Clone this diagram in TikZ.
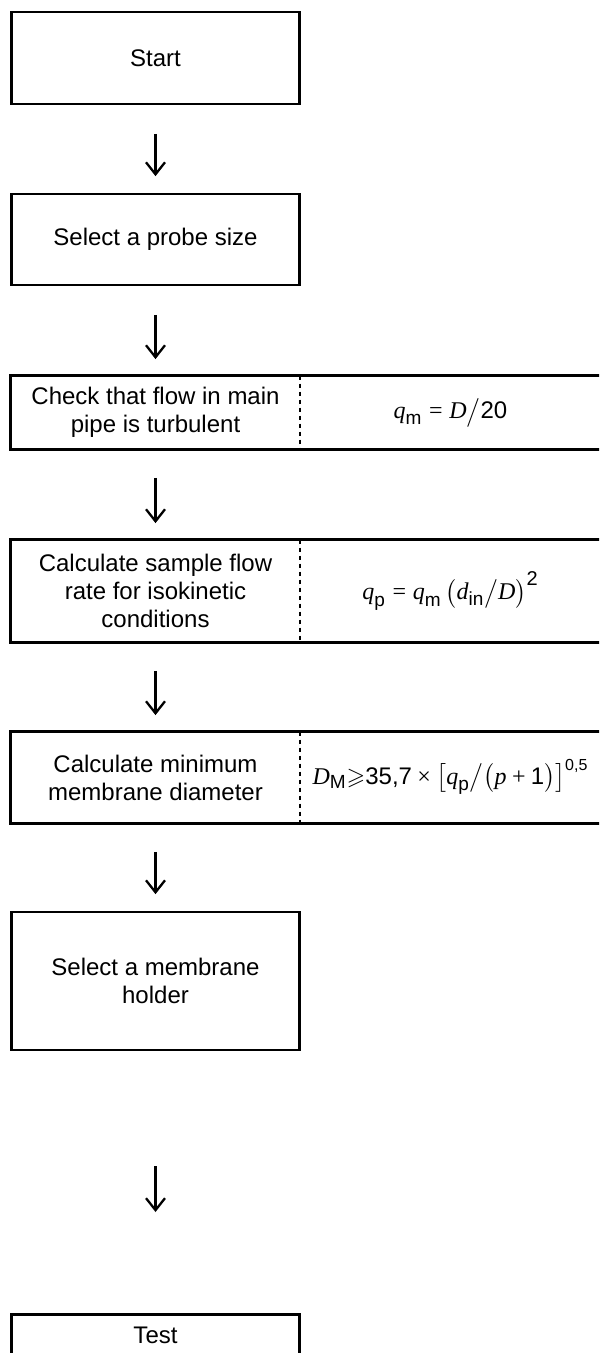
\documentclass[tikz,border=0pt]{standalone}
\usepackage{amsmath,amssymb}
\usepackage{fontspec}
\setmainfont{Liberation Sans}
\newfontfamily\tms{Liberation Serif}
\usetikzlibrary{arrows.meta}
\newcommand{\vi}[1]{\text{\tms\itshape #1}}
\newcommand{\vu}[1]{\text{\tms #1}}
\newcommand{\sbs}[1]{_{\hbox{\fontsize{9.5}{10}\selectfont #1}}}
\newcommand{\sps}[2]{^{\hbox{\fontsize{#1}{10}\selectfont #2}}}
\begin{document}
\begin{tikzpicture}[x=0.5pt,y=-0.5pt,
  every node/.style={font=\fontsize{12}{14}\selectfont},
  box/.style={draw, line width=1.35pt, inner sep=0pt, align=center, minimum width=144pt},
  cell/.style={inner sep=0pt, align=center},
  flow/.style={line width=1.15pt, -{Straight Barb[length=6pt,width=9.5pt]}, shorten <=14.25pt, shorten >=8.25pt},
  divider/.style={line width=1.05pt, dash pattern=on 2.4pt off 1.6pt},
  frame/.style={line width=1.35pt}]
\clip (0,0) rectangle (599,1353);
\node[box, minimum height=46pt] (start) at (155.5,58) {Start};
\node[box, minimum height=45.5pt] (probe) at (155.5,239.5) {\raisebox{2pt}{Select a probe size}};
% row: check
\node[cell, minimum width=144.5pt, minimum height=36.5pt] (checkL) at (155.5,412.5) {Check that flow in main\\pipe is turbulent};
\node[cell, minimum width=150.5pt, minimum height=36.5pt] (checkR) at (450.5,412.5) {$\vi{q}\sbs{m}\mathrel{\vu{=}}\vi{D}\big/\text{20}$};
\draw[frame] (checkL.north west) rectangle (checkR.south east);
\draw[divider] (checkL.north east) -- (checkL.south east);
% row: sample
\node[cell, minimum width=144.5pt, minimum height=51pt] (sampleL) at (155.5,591) {Calculate sample flow\\rate for isokinetic\\conditions};
\node[cell, minimum width=150.5pt, minimum height=51pt] (sampleR) at (450.5,591) {$\vi{q}\sbs{p}\mathrel{\vu{=}}\vi{q}\sbs{m}\,\bigl(\vi{d}\sbs{in}\big/\vi{D}\bigr)\sps{10}{2}$};
\draw[frame] (sampleL.north west) rectangle (sampleR.south east);
\draw[divider] (sampleL.north east) -- (sampleL.south east);
% row: minimum diameter
\node[cell, minimum width=144.5pt, minimum height=45.5pt] (minL) at (155.5,777.5) {Calculate minimum\\membrane diameter};
\node[cell, minimum width=150.5pt, minimum height=45.5pt] (minR) at (450.5,777.5) {\raisebox{6pt}{$\vi{D}\sbs{M}{\geqslant}\text{35,7}\mathbin{\vu{\texttimes}}\bigl[\vi{q}\sbs{p}\big/\bigl(\vi{p}\mathbin{\vu{+}}\text{1}\bigr)\bigr]\sps{8}{0,5}$}};
\draw[frame] (minL.north west) rectangle (minR.south east);
\draw[divider] (minL.north east) -- (minL.south east);
\node[box, minimum height=69pt] (holder) at (155.5,981) {Select a membrane\\holder};
\node[box, anchor=north, text height=14.8pt, text depth=30pt] (test) at (155.5,1313) {Test};
% connectors
\draw[flow] (start) -- (probe);
\draw[flow] (probe) -- (checkL);
\draw[flow] (checkL) -- (sampleL);
\draw[flow] (sampleL) -- (minL);
\draw[flow] (minL) -- (holder);
\draw[flow, shorten <=57.5pt, shorten >=50.5pt] (holder) -- (test);
\end{tikzpicture}
\end{document}
